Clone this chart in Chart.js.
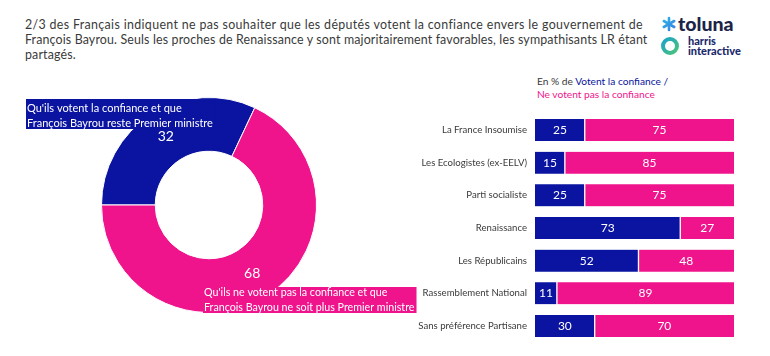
<!DOCTYPE html>
<html><head><meta charset="utf-8">
<script src="https://cdn.jsdelivr.net/npm/chart.js@4"></script>
<style>
html,body{margin:0;padding:0;background:#fff;width:770px;height:356px;overflow:hidden;font-family:"Lato","Noto Sans",sans-serif;}
#title{position:absolute;left:25px;top:17px;width:640px;font-size:12.4px;letter-spacing:0.15px;line-height:15px;color:#3a3a3a;white-space:nowrap;}
#title .l1{letter-spacing:0.35px;}
#legend{position:absolute;left:537px;top:75px;font-size:10.2px;line-height:13px;color:#3a3a3a;}
#donutWrap{position:absolute;left:0;top:60px;width:430px;height:296px;}
#barWrap{position:absolute;left:400px;top:100px;width:370px;height:256px;}
#logo{position:absolute;left:660px;top:12px;width:100px;height:50px;}
</style></head><body>
<div id="title"><span class="l1">2/3 des Français indiquent ne pas souhaiter que les députés votent la confiance envers le gouvernement de</span><br>François Bayrou. Seuls les proches de Renaissance y sont majoritairement favorables, les sympathisants LR étant<br>partagés.</div>
<div id="legend">En % de <span style="color:#0a14a0">Votent la confiance /</span><br><span style="color:#f0148c">Ne votent pas la confiance</span></div>
<svg id="logo" width="100" height="50" viewBox="0 0 100 50">
  <defs>
    <linearGradient id="ast" gradientUnits="userSpaceOnUse" x1="3" y1="6" x2="15" y2="18"><stop offset="0" stop-color="#2bb6e8"/><stop offset="1" stop-color="#3a7fe0"/></linearGradient>
    <linearGradient id="ring" gradientUnits="userSpaceOnUse" x1="3" y1="27" x2="17" y2="41"><stop offset="0" stop-color="#1aa3c9"/><stop offset="1" stop-color="#4cc47a"/></linearGradient>
  </defs>
  <g stroke="url(#ast)" stroke-width="2.6" stroke-linecap="round">
    <line x1="9" y1="6" x2="9" y2="18"/>
    <line x1="3.8" y1="9" x2="14.2" y2="15"/>
    <line x1="3.8" y1="15" x2="14.2" y2="9"/>
  </g>
  <text x="18" y="19" font-family="Lato, Noto Sans" font-weight="900" font-size="19.5" fill="#1b2347">toluna</text>
  <circle cx="10" cy="34" r="7" fill="none" stroke="url(#ring)" stroke-width="4"/>
  <text x="28" y="33" font-family="Lato, Noto Sans" font-weight="900" font-size="11" fill="#1b2a6b">harris</text>
  <text x="28" y="43" font-family="Lato, Noto Sans" font-weight="900" font-size="11" fill="#1b2a6b">interactive</text>
</svg>
<div id="donutWrap"><canvas id="donut"></canvas></div>
<div id="barWrap"><canvas id="bars"></canvas></div>
<script>
const BLUE = '#0a14a0';
const PINK = '#f0148c';

const donutLabels = [
  ["Qu'ils votent la confiance et que", "François Bayrou reste Premier ministre"],
  ["Qu'ils ne votent pas la confiance et que", "François Bayrou ne soit plus Premier ministre"]
];
const donutValues = [32, 68];

const parties = ["La France Insoumise", "Les Ecologistes (ex-EELV)", "Parti socialiste", "Renaissance", "Les Républicains", "Rassemblement National", "Sans préférence Partisane"];
const votent = [25, 15, 25, 73, 52, 11, 30];
const neVotentPas = [75, 85, 75, 27, 48, 89, 70];

const FONT = '"Lato","Noto Sans",sans-serif';

const donutLabelPlugin = {
  id: 'donutLabels',
  afterDatasetsDraw(chart) {
    const ctx = chart.ctx;
    const meta = chart.getDatasetMeta(0);
    ctx.save();
    ctx.fillStyle = '#fff';
    ctx.font = '14px ' + FONT;
    ctx.textAlign = 'center';
    ctx.textBaseline = 'middle';
    meta.data.forEach((arc, i) => {
      const p = arc.tooltipPosition();
      ctx.fillText(String(donutValues[i]), p.x, p.y);
    });
    const boxes = [
      {x: 26, y: 39, h: 30, off: 9, size: 11, color: BLUE},
      {x: 203, y: 227, h: 26, off: 6, size: 10.7, color: PINK}
    ];
    ctx.textAlign = 'left';
    boxes.forEach((b, i) => {
      ctx.font = b.size + 'px ' + FONT;
      const w = Math.max(...donutLabels[i].map(t => ctx.measureText(t).width)) + 3;
      ctx.fillStyle = b.color;
      ctx.fillRect(b.x, b.y, w, b.h);
      ctx.fillStyle = '#fff';
      donutLabels[i].forEach((line, j) => {
        ctx.fillText(line, b.x + 1, b.y + b.off + j * 15);
      });
    });
    ctx.restore();
  }
};

new Chart(document.getElementById('donut'), {
  type: 'doughnut',
  data: {
    labels: donutLabels.map(l => l.join(' ')),
    datasets: [{
      data: donutValues,
      backgroundColor: [BLUE, PINK],
      borderColor: '#fff',
      borderWidth: 1
    }]
  },
  options: {
    responsive: true,
    maintainAspectRatio: false,
    animation: false,
    rotation: 270,
    cutout: '50%',
    layout: {padding: {left: 101, right: 113, top: 37, bottom: 43}},
    plugins: {legend: {display: false}, tooltip: {enabled: false}}
  },
  plugins: [donutLabelPlugin]
});

const barValuePlugin = {
  id: 'barValues',
  afterDatasetsDraw(chart) {
    const ctx = chart.ctx;
    ctx.save();
    ctx.fillStyle = '#fff';
    ctx.font = '12px ' + FONT;
    ctx.textAlign = 'center';
    ctx.textBaseline = 'middle';
    chart.data.datasets.forEach((ds, di) => {
      chart.getDatasetMeta(di).data.forEach((bar, i) => {
        const x = (bar.x + bar.base) / 2;
        ctx.fillText(String(ds.data[i]), x, bar.y);
      });
    });
    ctx.restore();
  }
};

new Chart(document.getElementById('bars'), {
  type: 'bar',
  data: {
    labels: parties,
    datasets: [
      {label: 'Votent la confiance', data: votent, backgroundColor: BLUE, borderColor: '#fff', borderWidth: {top: 0, bottom: 0, left: 0, right: 1}, borderSkipped: false, barThickness: 22},
      {label: 'Ne votent pas la confiance', data: neVotentPas, backgroundColor: PINK, borderColor: '#fff', borderWidth: {top: 0, bottom: 0, left: 1, right: 0}, borderSkipped: false, barThickness: 22}
    ]
  },
  options: {
    indexAxis: 'y',
    responsive: true,
    maintainAspectRatio: false,
    animation: false,
    layout: {padding: {left: 0, right: 36, top: 3, bottom: 3}},
    scales: {
      x: {stacked: true, min: 0, max: 100, display: false},
      y: {
        stacked: true,
        grid: {display: false, drawTicks: false},
        border: {display: false},
        ticks: {color: '#3a3a3a', font: {family: FONT, size: 9.6}, padding: 8},
        afterFit(scale) { scale.width = 135; }
      }
    },
    plugins: {legend: {display: false}, tooltip: {enabled: false}}
  },
  plugins: [barValuePlugin]
});
</script>
</body></html>
